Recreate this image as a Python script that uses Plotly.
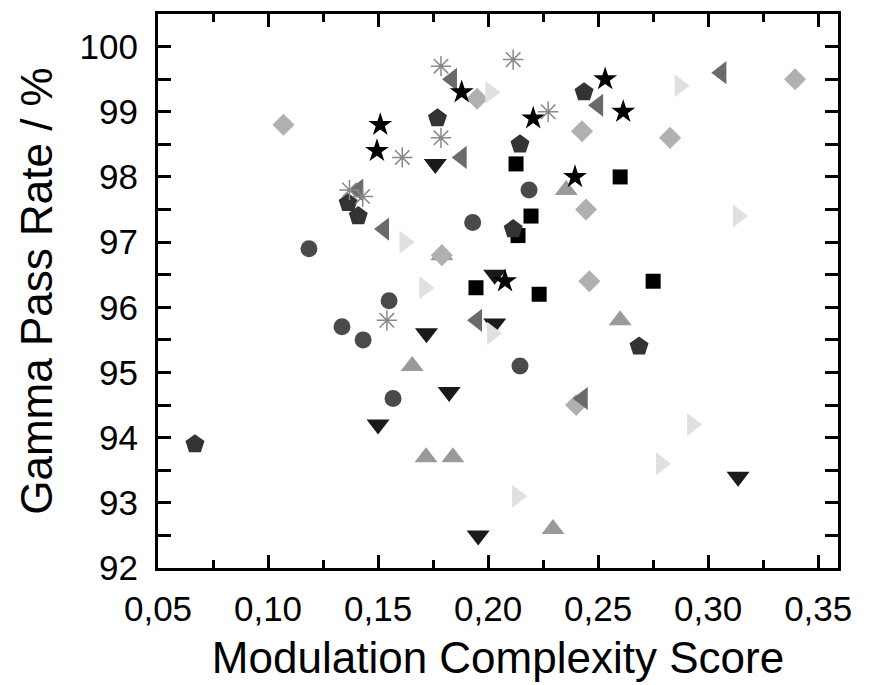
import plotly.graph_objects as go

# values (x = modulation complexity score, y = gamma pass rate)
x_square = [0.2127, 0.260, 0.2195, 0.2136, 0.1945, 0.275, 0.2232]
y_square = [98.2, 98.0, 97.4, 97.1, 96.3, 96.4, 96.2]

x_circle = [0.1186, 0.193, 0.2186, 0.155, 0.1336, 0.1432, 0.1568, 0.2145]
y_circle = [96.9, 97.3, 97.8, 96.1, 95.7, 95.5, 94.6, 95.1]

x_tri_up = [0.2355, 0.179, 0.1655, 0.1718, 0.184, 0.260, 0.2295]
y_tri_up = [97.8, 96.8, 95.1, 93.7, 93.7, 95.8, 92.6]

x_tri_down = [0.176, 0.203, 0.172, 0.203, 0.1823, 0.150, 0.1955, 0.3136]
y_tri_down = [98.2, 96.5, 95.6, 95.75, 94.7, 94.2, 92.5, 93.4]

x_diamond = [0.107, 0.195, 0.179, 0.2427, 0.2827, 0.2445, 0.246, 0.240, 0.3395]
y_diamond = [98.8, 99.2, 96.8, 98.7, 98.6, 97.5, 96.4, 94.5, 99.5]

x_tri_left = [0.1836, 0.188, 0.141, 0.1527, 0.195, 0.250, 0.306, 0.243]
y_tri_left = [99.5, 98.3, 97.8, 97.2, 95.8, 99.1, 99.6, 94.6]

x_tri_right = [0.201, 0.162, 0.171, 0.2018, 0.287, 0.3136, 0.2927, 0.2786, 0.2132]
y_tri_right = [99.3, 97.0, 96.3, 95.6, 99.4, 97.4, 94.2, 93.6, 93.1]

x_pentagon = [0.177, 0.1364, 0.141, 0.2114, 0.2145, 0.2436, 0.2686, 0.0668]
y_pentagon = [98.9, 97.6, 97.4, 97.2, 98.5, 99.3, 95.4, 93.9]

x_star = [0.188, 0.151, 0.1495, 0.2532, 0.2614, 0.2205, 0.2395, 0.2077]
y_star = [99.3, 98.8, 98.4, 99.5, 99.0, 98.9, 98.0, 96.4]

x_aster = [0.1786, 0.1786, 0.161, 0.137, 0.143, 0.154, 0.2114, 0.2273]
y_aster = [99.7, 98.6, 98.3, 97.8, 97.7, 95.8, 99.8, 99.0]

fig = go.Figure()

def add(xs, ys, symbol, color, size):
    fig.add_trace(go.Scatter(x=xs, y=ys, mode="markers",
                             marker=dict(symbol=symbol, color=color, size=size,
                                         line=dict(width=0))))

# drawing order follows the overlaps seen in the reference
add(x_square, y_square, "square", "#000000", 15)
add(x_circle, y_circle, "circle", "#4a4a4a", 17)
add(x_tri_up, y_tri_up, "triangle-up", "#9a9a9a", 20)
add(x_diamond, y_diamond, "diamond", "#b0b0b0", 17)
add(x_tri_left, y_tri_left, "triangle-left", "#6a6a6a", 20)
add(x_tri_down, y_tri_down, "triangle-down", "#1a1a1a", 20)
add(x_tri_right, y_tri_right, "triangle-right", "#e0e0e0", 20)
add(x_pentagon, y_pentagon, "pentagon", "#333333", 20)
add(x_star, y_star, "star", "#000000", 18)
fig.add_trace(go.Scatter(x=x_aster, y=y_aster, mode="markers",
                         marker=dict(symbol="asterisk-open", size=17, color="#888888",
                                     line=dict(color="#888888", width=1.5))))

font = "Liberation Sans, Arial, sans-serif"
fig.update_layout(
    width=864, height=677,
    margin=dict(l=150, r=34, t=3, b=117),
    paper_bgcolor="white", plot_bgcolor="white",
    showlegend=False,
    separators=",.",
    font=dict(family=font, color="black"),
)
fig.update_xaxes(
    range=[0.05, 0.359], tick0=0.05, dtick=0.05, tickformat=".2f",
    showgrid=False, zeroline=False,
    showline=True, linewidth=3, linecolor="black", mirror="allticks",
    ticks="inside", ticklen=13, tickwidth=3, tickcolor="black",
    minor=dict(dtick=0.025, tick0=0.05, ticks="inside", ticklen=8, tickwidth=3, tickcolor="black"),
    tickfont=dict(size=35), ticklabelstandoff=8,
    title=dict(text="Modulation Complexity Score", font=dict(size=44), standoff=16),
)
fig.update_yaxes(
    range=[92, 100.5], tick0=92, dtick=1,
    showgrid=False, zeroline=False,
    showline=True, linewidth=3, linecolor="black", mirror="allticks",
    ticks="inside", ticklen=13, tickwidth=3, tickcolor="black",
    minor=dict(dtick=0.5, tick0=92, ticks="inside", ticklen=13, tickwidth=3, tickcolor="black"),
    tickfont=dict(size=35), ticklabelstandoff=10,
    title=dict(text="Gamma Pass Rate / %", font=dict(size=44), standoff=14),
)

fig.write_html("out.html")
